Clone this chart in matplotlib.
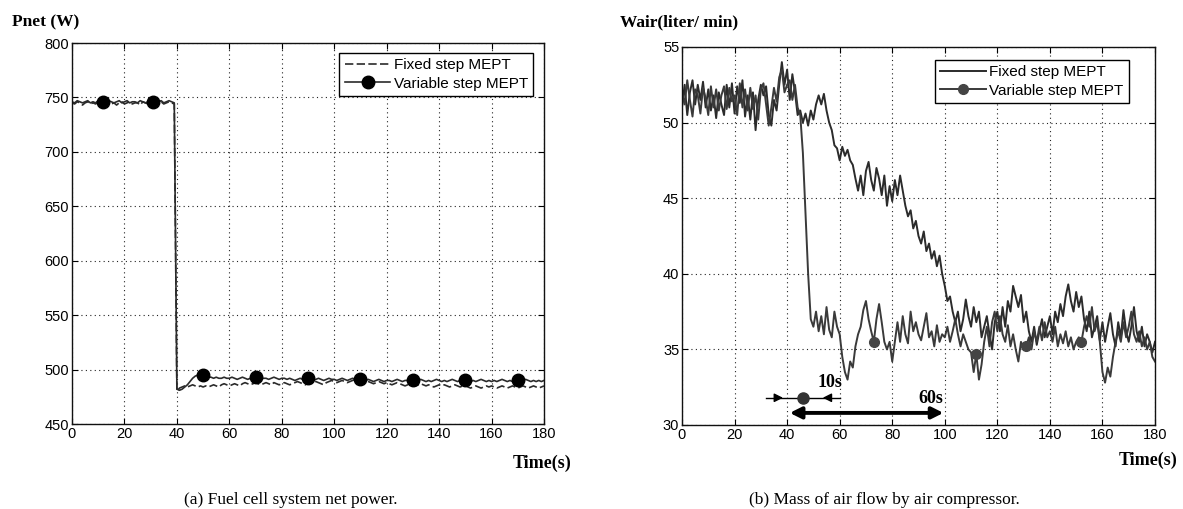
import matplotlib
matplotlib.use("Agg")
import matplotlib.pyplot as plt
import numpy as np

# ---------------- data ----------------
time_s = list(range(0, 181))

pnet_fixed = [745,744,746,745,743,745,746,744,745,744, 746,745,744,745,746,744,745,743,745,746,
              744,745,746,744,745,745,743,746,745,744, 746,745,744,745,746,744,745,746,745,744,
              480,
              483,484,485,484,485,486,485,484,485,484, 485,484,485,486,485,484,486,487,486,485,
              486,487,486,485,487,488,487,486,487,488, 487,486,487,488,487,486,488,487,486,487,
              488,487,486,487,488,489,488,487,486,488, 487,488,489,488,487,486,488,489,490,489,
              488,489,490,489,488,489,490,491,489,488, 489,490,489,488,487,488,489,488,487,488,
              487,486,487,488,487,486,485,486,487,486, 485,486,487,486,485,486,485,484,485,486,
              485,486,485,484,485,486,485,484,485,486, 484,483,484,485,484,483,484,485,484,485,
              484,483,484,485,484,483,484,485,484,483, 484,485,484,483,484,485,484,483,484,485]

pnet_variable = [746,745,747,746,745,746,747,745,746,745, 747,746,746,745,747,746,745,746,747,745,
                 746,747,745,746,746,745,747,746,745,746, 747,746,745,746,747,745,746,747,746,745,
                 482,
                 481,482,484,486,489,492,494,495,495,495, 494,493,493,492,493,492,492,493,492,492,
                 493,492,491,492,493,492,491,492,492,493, 492,491,492,492,491,492,493,492,491,492,
                 492,491,492,491,490,491,492,491,491,492, 491,490,491,492,491,490,491,492,491,491,
                 490,491,492,491,490,491,492,491,490,491, 491,490,491,490,489,490,491,490,489,490,
                 490,489,490,491,490,489,490,490,489,490, 489,490,491,490,489,490,489,490,491,490,
                 489,490,489,490,491,490,489,490,489,490, 490,489,490,489,490,491,490,489,490,489,
                 490,489,490,491,490,489,490,489,490,490, 489,490,491,490,489,490,489,490,489,490]
pnet_marker_times = [12, 31, 50, 70, 90, 110, 130, 150, 170]

wair_fixed = [51.0,52.5,50.5,52.0,52.8,51.2,52.5,51.5,52.7,51.0, 52.2,50.8,51.8,50.3,52.0,51.2,50.5,52.5,51.0,52.6,
              50.6,52.4,51.3,52.8,50.4,51.8,50.2,52.0,49.5,51.5, 52.5,51.8,52.4,50.5,49.8,51.5,50.8,52.5,54.0,52.5,
              53.5,
              51.5,53.2,52.0,50.5,50.8,50.0,50.6,49.8,50.8,50.2, 51.2,51.8,51.2,51.9,50.8,50.0,49.5,48.5,48.3,47.5,
              48.4,47.8,48.2,47.5,47.2,46.3,45.5,46.5,45.2,46.8, 47.4,46.2,45.5,47.0,46.3,45.2,46.5,44.5,45.8,44.8,
              46.2,45.2,46.5,45.5,44.5,43.8,44.2,43.0,43.5,42.5, 42.0,42.8,41.5,42.0,41.0,41.5,40.5,41.2,40.0,39.2,
              38.2,38.5,37.5,36.8,37.5,36.2,37.0,38.3,37.2,36.5, 37.8,36.8,37.5,35.8,36.5,37.2,36.0,35.0,36.8,37.5,
              36.2,37.8,36.5,38.2,37.5,39.2,38.5,37.8,38.6,36.8, 37.5,36.2,35.5,36.5,35.3,36.2,37.0,35.8,36.5,37.2,
              36.0,37.5,36.8,38.0,37.2,38.5,39.3,38.2,37.5,38.8, 37.8,38.5,37.0,36.2,37.5,35.8,36.5,37.2,35.6,36.8,
              35.5,36.5,37.4,36.0,35.2,36.8,35.8,37.6,36.2,35.5, 36.5,37.8,36.2,35.5,36.5,35.2,36.0,35.5,34.8,35.5]

wair_variable = [52.0,51.2,52.8,51.5,50.4,52.2,51.8,50.6,52.3,51.6, 50.5,52.4,51.0,52.2,50.8,51.8,52.4,50.9,52.3,51.4,
                 51.8,50.5,52.6,51.0,52.2,50.8,52.3,50.9,51.8,50.2, 52.2,52.6,51.2,49.8,51.0,52.3,51.4,53.0,53.5,52.0,
                 52.5,
                 52.8,51.5,52.5,51.0,50.5,48.0,44.0,40.0,37.0,36.5, 37.5,36.2,37.2,36.0,37.8,36.3,35.8,37.5,36.5,36.0,
                 34.5,33.5,33.0,34.2,33.8,35.2,36.0,36.5,37.6,38.2, 37.0,36.2,35.5,37.0,38.0,36.8,35.5,35.0,35.5,34.2,
                 35.5,36.8,35.5,37.2,36.0,35.4,37.5,36.2,36.8,36.0, 35.6,36.5,37.4,35.8,36.2,35.2,36.6,35.5,36.0,35.8,
                 36.5,35.5,36.2,37.0,36.0,35.2,36.0,35.5,35.0,34.8, 33.5,34.7,33.0,34.0,35.5,36.5,35.2,36.8,37.5,36.2,
                 37.2,36.0,35.5,36.6,35.2,36.0,35.0,34.2,35.5,35.0, 35.2,35.8,35.0,36.2,35.5,36.5,35.6,36.8,35.8,36.2,
                 35.5,36.5,35.2,36.0,35.4,36.2,35.2,35.8,35.0,35.5, 35.8,35.5,36.5,37.2,36.5,37.8,36.2,36.8,35.5,33.5,
                 32.8,33.8,33.2,34.5,35.5,36.2,35.5,36.8,35.8,36.5, 37.5,36.0,35.5,36.2,35.2,35.8,35.0,35.5,34.5,34.2]
wair_marker_times = [73, 112, 131, 152]

x_ticks = [0, 20, 40, 60, 80, 100, 120, 140, 160, 180]
pnet_ticks = [450, 500, 550, 600, 650, 700, 750, 800]
wair_ticks = [30, 35, 40, 45, 50, 55]

# annotation values (right panel)
ann_10s = {"start": 32, "head_r": 37, "marker": 46, "head_l": 55, "end": 60, "y": 31.8}
ann_60s = {"start": 41, "end": 99.5, "y": 30.8}

# ---------------- figure ----------------
W, H = 1183, 509
fig = plt.figure(figsize=(W / 100, H / 100), dpi=100)

serif = "Liberation Serif"
sans = "Liberation Sans"
lc = "#2b2b2b"

def px_axes(x0, y0, x1, y1):
    return fig.add_axes([x0 / W, 1 - y1 / H, (x1 - x0) / W, (y1 - y0) / H])

def style_axes(ax, yticks):
    ax.set_xlim(0, 180)
    ax.set_xticks(x_ticks)
    ax.set_yticks(yticks)
    ax.set_ylim(yticks[0], yticks[-1])
    ax.grid(True, color="#222222", linestyle=(0, (1, 3)), linewidth=0.8)
    ax.tick_params(direction="in", length=4, width=0.8, top=True, right=True,
                   labelsize=10.5, pad=2)
    for lab in ax.get_xticklabels() + ax.get_yticklabels():
        lab.set_fontfamily(sans)
    for s in ax.spines.values():
        s.set_linewidth(1.0)
        s.set_color("#111111")

# ---- left panel ----
ax1 = px_axes(72, 43, 544, 424)
t = np.array(time_s)
ax1.plot(t, pnet_fixed, color=lc, linestyle=(0, (5, 2)), linewidth=1.2,
         label="Fixed step MEPT")
ax1.plot(t, pnet_variable, color=lc, linestyle="-", linewidth=1.2,
         marker="o", markersize=9, markerfacecolor="black", markeredgecolor="black",
         markevery=pnet_marker_times, label="Variable step MEPT")
style_axes(ax1, pnet_ticks)
leg1 = ax1.legend(loc="upper right", bbox_to_anchor=(0.977, 0.974), borderaxespad=0,
                  fancybox=False, framealpha=1, edgecolor="black",
                  prop={"family": sans, "size": 11}, handlelength=3.0,
                  handletextpad=0.2, borderpad=0.35, labelspacing=0.3)
leg1.get_frame().set_linewidth(1.0)

# ---- right panel ----
ax2 = px_axes(682, 47, 1155, 425)
ax2.plot(t, wair_fixed, color=lc, linestyle="-", linewidth=1.4,
         label="Fixed step MEPT")
ax2.plot(t, wair_variable, color="#3a3a3a", linestyle="-", linewidth=1.4,
         marker="o", markersize=7, markerfacecolor="#444444", markeredgecolor="#444444",
         markevery=wair_marker_times, label="Variable step MEPT")
style_axes(ax2, wair_ticks)
leg2 = ax2.legend(loc="upper right", bbox_to_anchor=(0.945, 0.966), borderaxespad=0,
                  fancybox=False, framealpha=1, edgecolor="black",
                  prop={"family": sans, "size": 11}, handlelength=3.0,
                  handletextpad=0.2, borderpad=0.35, labelspacing=0.3)
leg2.get_frame().set_linewidth(1.0)

# annotations
a = ann_10s
ax2.plot([a["start"], a["end"]], [a["y"], a["y"]], color="black", linewidth=1.0)
ax2.annotate("", xy=(a["head_r"] + 2.5, a["y"]), xytext=(a["head_r"] - 1.5, a["y"]),
             arrowprops=dict(arrowstyle="-|>", color="black", lw=1.0, mutation_scale=13))
ax2.annotate("", xy=(a["head_l"] - 2.5, a["y"]), xytext=(a["head_l"] + 1.5, a["y"]),
             arrowprops=dict(arrowstyle="-|>", color="black", lw=1.0, mutation_scale=13))
ax2.plot([a["marker"]], [a["y"]], marker="o", markersize=8, color="#333333")
b = ann_60s
ax2.annotate("", xy=(b["end"], b["y"]), xytext=(b["start"], b["y"]),
             arrowprops=dict(arrowstyle="<|-|>", color="black", lw=2.8, mutation_scale=17,
                             shrinkA=0, shrinkB=0))
ax2.text(56.4, 32.8, "10s", fontfamily=serif, fontweight="bold", fontsize=13,
         ha="center", va="center")
ax2.text(94.5, 31.75, "60s", fontfamily=serif, fontweight="bold", fontsize=13,
         ha="center", va="center")

# ---- labels / captions ----
fig.text(12 / W, 1 - 22 / H, "Pnet (W)", fontfamily=serif, fontweight="bold",
         fontsize=12.5, ha="left", va="center")
fig.text(620 / W, 1 - 22 / H, "Wair(liter/ min)", fontfamily=serif, fontweight="bold",
         fontsize=12.5, ha="left", va="center")
fig.text(571 / W, 1 - 463 / H, "Time(s)", fontfamily=serif, fontweight="bold",
         fontsize=13, ha="right", va="center")
fig.text(1177 / W, 1 - 460 / H, "Time(s)", fontfamily=serif, fontweight="bold",
         fontsize=13, ha="right", va="center")
fig.text(291 / W, 1 - 500 / H, "(a) Fuel cell system net power.", fontfamily=serif,
         fontsize=12.5, ha="center", va="center")
fig.text(884 / W, 1 - 500 / H, "(b) Mass of air flow by air compressor.", fontfamily=serif,
         fontsize=12.5, ha="center", va="center")

fig.savefig("out.png", dpi=100)
